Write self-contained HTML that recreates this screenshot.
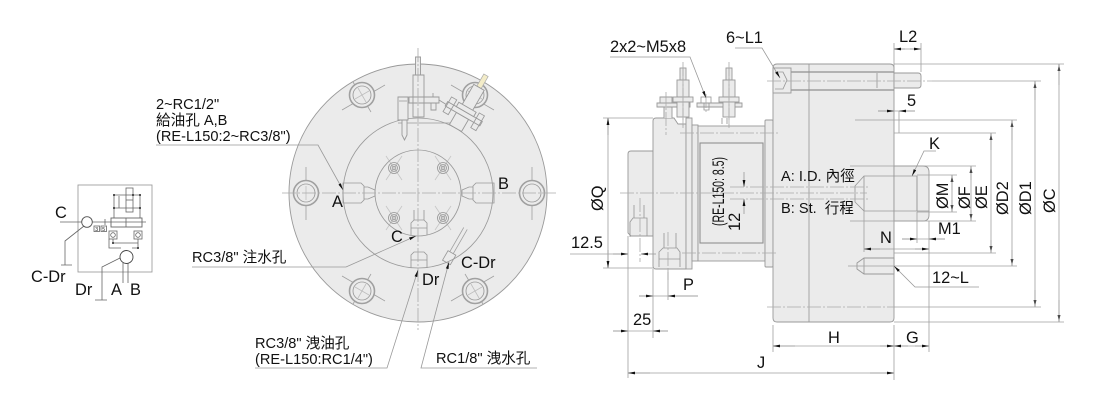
<!DOCTYPE html>
<html><head><meta charset="utf-8"><style>
html,body{margin:0;padding:0;background:#fff;width:1100px;height:400px;overflow:hidden}
svg{display:block}
text{font-family:"Liberation Sans","Noto Sans CJK TC",sans-serif;fill:#111}
.t{font-size:16.4px}.s{font-size:14.6px}
.l{fill:none;stroke:#999;stroke-width:.85}
.d{fill:none;stroke:#a0a0a0;stroke-width:.8}
.c{fill:none;stroke:#aaa;stroke-width:.8;stroke-dasharray:14 2 2 2}
.b{fill:#ebebeb;stroke:#999;stroke-width:.9}
.k{fill:none;stroke:#666;stroke-width:.8}
.a{fill:none;stroke:#999;stroke-width:.8;marker-end:url(#m)}
</style></head><body>
<svg width="1100" height="400" viewBox="0 0 1100 400" xmlns="http://www.w3.org/2000/svg">
<defs>
<marker id="m" markerUnits="userSpaceOnUse" markerWidth="8" markerHeight="4" refX="7" refY="2" orient="auto"><path d="M0 .6L7 2L0 3.4z" fill="#111"/></marker>
<g id="hole"><circle r="12.500" fill="#ebebeb" stroke="#a0a0a0" stroke-width="1.6"/><circle r="9" class="l"/></g>
<g id="sh"><circle r="5.5" class="l"/><circle r="3.5" class="l"/><circle r="1.8" class="l"/></g>
<g id="bolt"><rect x="-3" y="-36" width="6" height="12" class="b"/><rect x="-6" y="-24" width="12" height="17" class="b"/><rect x="-10" y="-7" width="20" height="5" class="b"/><rect x="-6" y="-2" width="12" height="15" class="b"/><path d="M0-42V24" class="c"/></g>
</defs>

<!-- schematic -->
<rect x="78" y="185" width="74" height="87" class="l"/>
<path d="M60 222H146M84 226L65 241V265M61 265H72" class="k"/>
<circle cx="87" cy="222" r="5.300" fill="#fff" stroke="#555" stroke-width=".9"/>
<path d="M123 263V283M128 263V283M120 258L102 267V300M95 300H107" class="k"/>
<circle cx="126.500" cy="257" r="6.500" fill="#fff" stroke="#444" stroke-width=".9"/>
<rect x="111" y="218" width="31" height="9" fill="none" stroke="#666" stroke-width=".9"/><path d="M126 218V227M105 219V225" class="k"/>
<rect x="126" y="188" width="7" height="24" class="k"/><path d="M126 200H133" class="k"/>
<path d="M114 218V195H140V218M114 208H140M119 208V196" class="k"/>
<rect x="94" y="226" width="5.500" height="5.500" class="k"/><rect x="101" y="226" width="5.500" height="5.500" class="k"/>
<text x="95.300" y="231" font-size="5">3</text><text x="102.300" y="231" font-size="5">5</text>
<rect x="109" y="231" width="8" height="8" class="k"/><rect x="134" y="231" width="8" height="8" class="k"/>
<circle cx="113" cy="235" r="2.300" class="k"/><circle cx="138" cy="235" r="2.300" class="k"/>
<path d="M113 239V243H138V239M109 239V248H121M138 243V248H132" class="k"/>
<g fill="#222"><circle cx="114" cy="195" r="1"/><circle cx="140" cy="195" r="1"/><circle cx="133" cy="195" r="1"/><circle cx="114" cy="208" r="1"/><circle cx="140" cy="208" r="1"/><circle cx="113" cy="243" r="1"/><circle cx="138" cy="248" r="1"/></g>
<text x="55" y="218" class="t">C</text><text x="31" y="282" class="t">C-Dr</text><text x="75" y="295" class="t">Dr</text><text x="111" y="295" class="t">A</text><text x="130" y="295" class="t">B</text>

<!-- front view -->
<circle cx="418" cy="193" r="129" class="b"/>
<circle cx="418" cy="193" r="75" class="l"/>
<circle cx="418" cy="193" r="43" class="l"/>
<path d="M342 110L385 85M353 82L371 112M451 85L494 110M465 112L483 82M342 276L385 301M353 304L371 274M451 301L494 276M465 274L483 304M306 167V220M532 167V220" class="d"/>
<use href="#hole" x="306" y="193"/><use href="#hole" x="532" y="193"/><use href="#hole" x="362" y="95"/><use href="#hole" x="475" y="95"/><use href="#hole" x="362" y="291"/><use href="#hole" x="475" y="291"/>
<path d="M306 186V200M355 99L369 91M358 88L366 102M468 91L482 99M471 102L479 88M355 287L369 295M358 298L366 284M468 295L482 287M471 284L479 298" class="d" opacity=".6"/>
<path d="M386 156L402 180M386 180L402 156M435 180L451 156M435 156L451 180M386 230L402 206M386 206L402 230M435 206L451 230M435 230L451 206" class="d" opacity=".5"/>
<use href="#sh" x="394" y="168"/><use href="#sh" x="443" y="168"/><use href="#sh" x="394" y="218"/><use href="#sh" x="443" y="218"/>
<path d="M343 183H361L364 186V200L361 203H343ZM364 187H368L375 190V196L368 199H364ZM494 183H476L473 186V200L476 203H494ZM473 187H469L462 190V196L469 199H473Z" class="l"/>
<path d="M411 235V223L414 220H424L427 223V235M411 228H427M414 220V210M424 220V210M411 268V255L414 252H424L427 255V268M411 260H427" class="l"/>
<g transform="rotate(30 449 257)"><rect x="445" y="252" width="9" height="11" class="l"/><path d="M447 252V224M451 252V224" class="d"/></g>
<path d="M398 123H450" class="l"/>
<path d="M409 97H439V103H409ZM413 75H424V117H413ZM415.500 57H420.500V75H415.500ZM398 97H408V120H398ZM402 120V135L404.500 140L407 135V120M431 103V110H436V103" class="b"/>
<path d="M433 93V97M399 101H407" class="l"/>
<path d="M439 100L447 105L452 110" class="l"/>
<g transform="rotate(30 418 193)">
<rect x="415.500" y="57" width="5" height="14" fill="#f3ecc8" stroke="#aaa" stroke-width=".7"/>
<rect x="412" y="71" width="12" height="24" class="b"/>
<rect x="411" y="104" width="14" height="14" class="b"/>
<rect x="398" y="99" width="40" height="5" class="b"/>
<rect x="399" y="93" width="6" height="17" class="l"/><rect x="431" y="93" width="6" height="17" class="l"/>
<rect x="408" y="94" width="20" height="5" class="b"/>
</g>
<path d="M418 48V330M282 193H556" class="c"/>
<path d="M156 145H318L343 190" class="a"/>
<path d="M192 267H346L416 236" class="a"/>
<path d="M255 368H387L418 270" class="a"/>
<path d="M537 368H421L449 262" class="a"/>
<text x="156" y="109" class="s">2~RC1/2"</text><text x="156" y="125" class="s">給油孔 A,B</text><text x="156" y="141" class="s">(RE-L150:2~RC3/8")</text>
<text x="192" y="262" class="s">RC3/8" 注水孔</text><text x="255" y="348" class="s">RC3/8" 洩油孔</text><text x="255" y="364" class="s">(RE-L150:RC1/4")</text><text x="436" y="363" class="s">RC1/8" 洩水孔</text>
<text x="332" y="207" class="t">A</text><text x="498" y="189" class="t">B</text><text x="391" y="242" class="t">C</text><text x="422" y="285" class="t">Dr</text><text x="461" y="268" class="t">C-Dr</text>

<!-- side view -->
<path d="M628 154Q628 151 631 151H653V236H631L628 233Z" class="b"/>
<path d="M653 121Q653 118 656 118H674L678 124H686V269H656Q653 269 653 266Z" class="b"/>
<rect x="686" y="118" width="6" height="151" class="b"/><rect x="692" y="125" width="6" height="136" class="b"/>
<rect x="698" y="126" width="67" height="135" class="b"/><rect x="700" y="143" width="63" height="100" fill="#ebebeb" stroke="#909090" stroke-width="1.1"/>
<rect x="765" y="120" width="8" height="147" class="b" rx="1"/>
<path d="M777 64H890Q894 64 894 68V318Q894 322 890 322H777Q773 322 773 318V68Q773 64 777 64Z" class="b"/>
<path d="M809 64V322" class="l"/>
<path d="M894 73H918Q921 73 921 76V85Q921 88 918 88H894Z" class="b"/><path d="M791 72H894M791 90H894" fill="none" stroke="#909090" stroke-width="1.2"/><path d="M877 73V88" class="l"/>
<rect x="773" y="68" width="18" height="25" class="b"/><path d="M775 72H783L787 80L783 89H775" class="l"/>
<path d="M894 166H923Q929 166 929 172V215Q929 221 923 221H894Z" class="b"/>
<path d="M917 176H864L855 186V202L864 211H917Z" class="l"/><path d="M917 176V211H929" class="l"/><path d="M864 176V211" class="l"/>
<path d="M894 258H864L857 263V269L864 274H894Z" class="b"/><path d="M864 258V274" class="l"/>
<path d="M664 118V107H672V118M660 103H672V97H660ZM657 103H690V107H657ZM697 103H742V107H697Z" class="b"/>
<use href="#bolt" x="683" y="104"/><use href="#bolt" x="729" y="104"/>
<path d="M722 118V124M727 118V124" class="l"/>
<rect x="701" y="97" width="10" height="6" class="l"/><path d="M704 103H709V110H704Z" class="l"/>
<path d="M630 237V222L633 218H647V236M634 218V205M644 218V205M659 267V252L663 248H677L680 252V267M664 248V233M676 248V233M659 259H680" class="l"/>
<path d="M666 92V135M683 68V128M729 68V128M706 94V112M640 198V262M668 232V280M620 193H867M680 133H780M682 253H778M730 187H870M730 199H870M767 81H932M767 307H894" class="c"/>

<!-- dimensions -->
<path d="M603 118H653M603 268H653M608 118V268" class="d"/><path d="M608 135V118" class="a"/><path d="M608 250V268" class="a"/>
<path d="M570 254H628M628 236V378" class="d"/><path d="M613 254H628" class="a"/><path d="M656 254H641" class="a"/>
<path d="M639 296H698M653 269V338M668 270V300" class="d"/><path d="M639 296H653" class="a"/><path d="M698 296H668" class="a"/>
<path d="M613 331H668" class="d"/><path d="M613 331H628" class="a"/><path d="M668 331H653" class="a"/>
<path d="M628 373H894M773 325V352M894 325V380M929 221V352" class="d"/><path d="M650 373H628" class="a"/><path d="M870 373H894" class="a"/>
<path d="M773 346H929" class="d"/><path d="M795 346H773" class="a"/><path d="M880 346H894" class="a"/><path d="M908 346H894" class="a"/><path d="M915 346H929" class="a"/>
<path d="M744 172V187" class="a"/><path d="M744 214V199" class="a"/>
<path d="M894 43V72M921 43V72M894 49H921" class="d"/><path d="M905 49H894" class="a"/><path d="M910 49H921" class="a"/>
<path d="M878 111H915M899 111V133" class="d"/><path d="M878 111H894" class="a"/><path d="M915 111H899" class="a"/>
<path d="M894 64H1064M932 81H1041M855 120H1017M894 133H996M850 166H976M917 175H957M917 212H957M850 221H976M894 253H996M848 266H1017M894 307H1041M894 322H1064" class="d"/>
<path d="M1059 85V64" class="a"/><path d="M1059 300V322" class="a"/><path d="M1035 100V81" class="a"/><path d="M1035 290V307" class="a"/><path d="M1012 140V120" class="a"/><path d="M1012 250V266" class="a"/><path d="M991 150V133" class="a"/><path d="M991 240V253" class="a"/><path d="M971 180V166" class="a"/><path d="M971 210V221" class="a"/>
<path d="M952 190V175" class="a"/><path d="M952 200V212" class="a"/>
<path d="M1059 64V322M1035 81V307M1012 120V266M991 133V253M971 166V221M952 175V212M917 212V243" class="d"/>
<path d="M864 211V252M864 249H929" class="d"/><path d="M880 249H864" class="a"/><path d="M915 249H929" class="a"/>
<path d="M902 239H945" class="d"/><path d="M902 239H917" class="a"/><path d="M945 239H929" class="a"/>
<path d="M610 57H690L706 98" class="a"/><path d="M735 48H762L780 78" class="a"/>
<path d="M936 151H924L912 176" class="a"/><path d="M979 287H915L894 266" class="a"/>
<text x="610" y="52" class="t">2x2~M5x8</text><text x="726" y="43" class="t">6~L1</text><text x="899" y="42" class="t">L2</text><text x="907" y="106" class="t">5</text><text x="929" y="149" class="t">K</text>
<text x="781" y="181" class="s">A: I.D. 內徑</text><text x="781" y="213" class="s">B: St.&nbsp; 行程</text>
<text x="938" y="234" class="t">M1</text><text x="880" y="243" class="t">N</text><text x="932" y="283" class="t">12~L</text><text x="828" y="343" class="t">H</text><text x="906" y="343" class="t">G</text><text x="757" y="368" class="t">J</text>
<text x="633" y="325" class="t">25</text><text x="683" y="290" class="t">P</text><text x="571" y="248" class="t">12.5</text>
<g class="t"><text transform="translate(603 211) rotate(-90)">ØQ</text><text transform="translate(948 209) rotate(-90)">ØM</text><text transform="translate(970 209) rotate(-90)">ØF</text><text transform="translate(987 209) rotate(-90)">ØE</text><text transform="translate(1008 215) rotate(-90)">ØD2</text><text transform="translate(1031 215) rotate(-90)">ØD1</text><text transform="translate(1055 213) rotate(-90)">ØC</text><text transform="translate(740 231) rotate(-90)">12</text></g>
<text transform="translate(724 226) rotate(-90)" style="font-size:17px" textLength="69" lengthAdjust="spacingAndGlyphs">(RE-L150: 8.5)</text>
</svg>
</body></html>
